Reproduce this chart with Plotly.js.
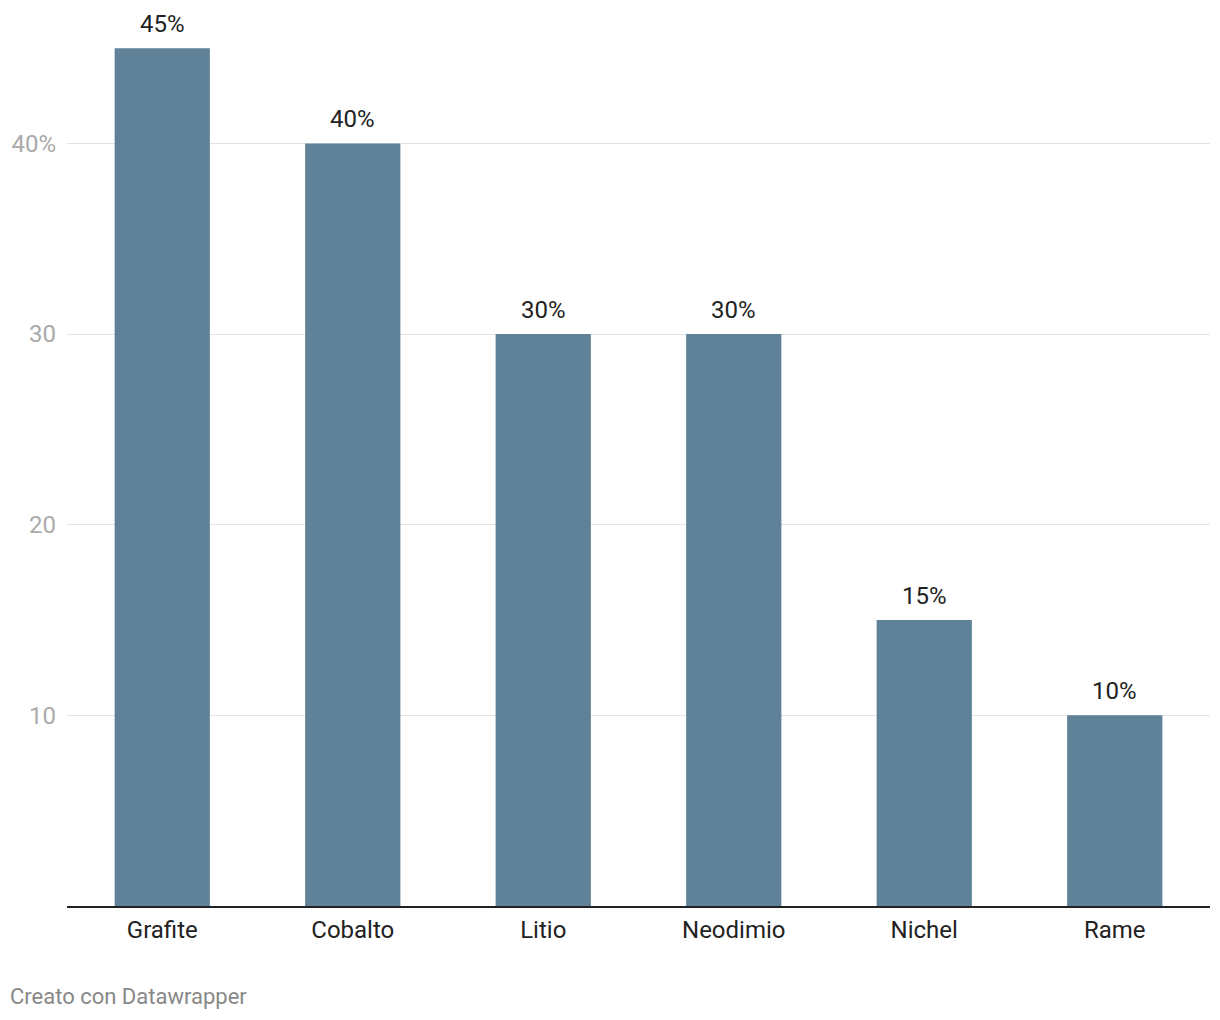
<!DOCTYPE html>
<html>
<head>
<meta charset="utf-8">
<script src="https://cdn.plot.ly/plotly-3.0.1.min.js"></script>
<style>html,body{margin:0;padding:0;background:#fff;}#chart{width:1220px;height:1020px;}</style>
</head>
<body>
<div id="chart"></div>
<script>
const categories = ["Grafite", "Cobalto", "Litio", "Neodimio", "Nichel", "Rame"];
const values = [45, 40, 30, 30, 15, 10];
const tickVals = [10, 20, 30, 40];
const tickLabels = ["10", "20", "30", "40%"];
const footer = "Creato con Datawrapper";

const barColor = "#5f8298";
const font = "Roboto, 'Open Sans', sans-serif";

const trace = {
  type: "bar",
  x: categories,
  y: values,
  marker: {color: barColor},
  hoverinfo: "x+y"
};

const annotations = categories.map((c, i) => ({
  x: c, y: values[i], xref: "x", yref: "y",
  text: values[i] + "%",
  showarrow: false, yanchor: "bottom", yshift: 8,
  font: {family: font, size: 24, color: "#222"}
}));
annotations.push({
  x: 0, y: 0, xref: "paper", yref: "paper", xanchor: "left", yanchor: "top",
  xshift: -59, yshift: -76,
  text: footer, showarrow: false,
  font: {family: font, size: 22, color: "#888"}
});

const layout = {
  width: 1220, height: 1020,
  margin: {l: 67, r: 10, t: 10, b: 114},
  paper_bgcolor: "#fff", plot_bgcolor: "#fff",
  bargap: 0.5,
  showlegend: false,
  font: {family: font},
  xaxis: {
    showgrid: false, zeroline: false,
    showline: true, linecolor: "#222", linewidth: 2,
    ticks: "", ticklabelstandoff: 1,
    tickfont: {family: font, size: 24, color: "#222"},
    fixedrange: true
  },
  yaxis: {
    range: [0, 47],
    tickvals: tickVals, ticktext: tickLabels,
    showgrid: true, gridcolor: "#e3e3e3", gridwidth: 1,
    zeroline: false, showline: false,
    ticks: "", ticklabelstandoff: 10,
    tickfont: {family: font, size: 24, color: "#aaaaaa"},
    fixedrange: true
  },
  annotations: annotations
};

Plotly.newPlot("chart", [trace], layout, {displayModeBar: false, staticPlot: true});
</script>
</body>
</html>
